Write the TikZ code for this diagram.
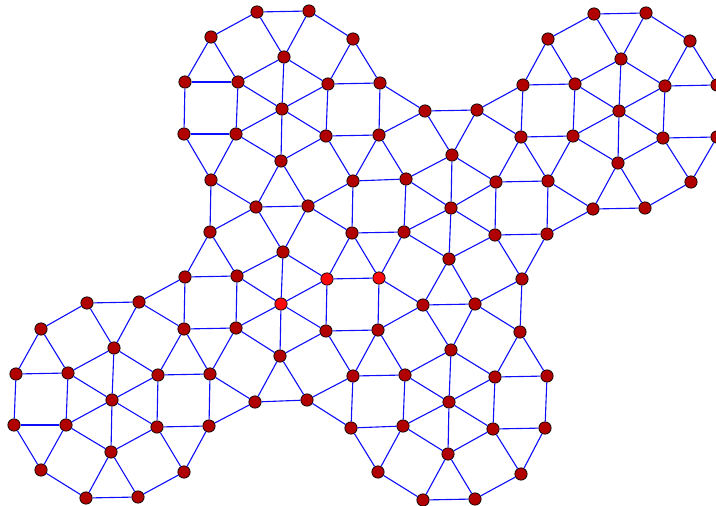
\documentclass[tikz,border=0pt]{standalone}
\definecolor{vertred}{RGB}{176,0,0}
\definecolor{hotred}{RGB}{250,10,10}
\definecolor{linkblue}{RGB}{15,15,250}

\begin{document}
\begin{tikzpicture}[x=0.03cm, y=-0.03cm,
  vtx/.style={circle, draw=black, fill=vertred, line width=0.6pt,
              minimum size=0.37cm, inner sep=0pt},
  hot/.style={vtx, fill=hotred},
  link/.style={linkblue, line width=0.95pt}]
  \useasboundingbox (0,0) rectangle (716,506);
  \foreach \n/\x/\y in {1/257/12, 2/309/11, 3/211/37, 4/353/39, 5/284/57,
      6/185/82, 7/238/82, 8/328/84, 9/380/83, 10/282/109, 11/184/134,
      12/236/134, 13/326/136, 14/379/135, 15/281/161, 16/211/180,
      17/353/181, 18/406/179, 19/425/111, 20/477/110, 21/452/155,
      22/594/14, 23/646/13, 24/548/39, 25/690/41, 26/621/59, 27/523/85,
      28/575/84, 29/665/86, 30/717/85, 31/619/111, 32/521/137, 33/573/136,
      34/663/138, 35/717/137, 36/618/163, 37/496/182, 38/548/181,
      39/691/182, 40/593/209, 41/645/208, 42/256/207, 43/308/206,
      44/451/208, 45/210/232, 46/352/233, 47/404/232, 48/495/235,
      49/547/234, 50/283/252, 51/449/259, 52/185/277, 53/237/276,
      56/522/279, 57/87/303, 58/139/302, 60/423/305, 61/475/304,
      62/41/329, 63/184/329, 64/236/328, 65/326/331, 66/378/330,
      67/520/332, 68/114/348, 69/16/374, 70/68/373, 71/158/375,
      72/210/374, 73/112/400, 74/14/425, 75/66/425, 76/157/427,
      77/209/426, 78/111/452, 79/41/470, 80/184/472, 81/86/498,
      82/138/497, 83/280/356, 84/255/402, 85/307/400, 86/451/350,
      87/353/376, 88/405/375, 89/495/377, 90/547/376, 91/449/402,
      92/351/428, 93/403/426, 94/493/429, 95/545/428, 96/448/454,
      97/378/472, 98/521/474, 99/423/500, 100/475/499}
    \node[vtx] (v\n) at (\x,\y) {};
  \foreach \n/\x/\y in {54/327/279, 55/379/278, 59/281/304}
    \node[hot] (v\n) at (\x,\y) {};
  \foreach \a/\b in {1/2, 1/3, 1/5, 2/4, 2/5, 3/6, 3/7, 4/8, 4/9, 5/7, 5/8,
      5/10, 6/7, 6/11, 7/10, 7/12, 8/9, 8/10, 8/13, 9/14, 9/19, 10/12,
      10/13, 10/15, 11/12, 11/16, 12/15, 12/16, 13/14, 13/15, 13/17,
      14/17, 14/18, 14/19, 15/42, 15/43, 16/42, 16/45, 17/18, 17/43,
      17/46, 18/21, 18/44, 18/47, 19/20, 19/21, 20/21, 20/27, 20/32,
      21/37, 21/44, 22/23, 22/24, 22/26, 23/25, 23/26, 24/27, 24/28,
      25/29, 25/30, 26/28, 26/29, 26/31, 27/28, 27/32, 28/31, 28/33,
      29/30, 29/31, 29/34, 30/35, 31/33, 31/34, 31/36, 32/33, 32/37,
      32/38, 33/36, 33/38, 34/35, 34/36, 34/39, 35/39, 36/40, 36/41,
      37/38, 37/44, 37/48, 38/40, 38/49, 39/41, 40/41, 40/49, 42/43,
      42/45, 42/50, 43/46, 43/50, 44/47, 44/48, 44/51, 45/52, 45/53,
      46/47, 46/54, 46/55, 47/51, 47/55, 48/49, 48/51, 48/56, 49/56,
      50/53, 50/54, 50/59, 51/60, 51/61, 52/53, 52/58, 52/63, 53/59,
      53/64, 54/55, 54/59, 54/65, 55/60, 55/66, 56/61, 56/67, 57/58,
      57/62, 57/68, 58/63, 58/68, 59/64, 59/65, 59/83, 60/61, 60/66,
      60/86, 61/67, 61/86, 62/69, 62/70, 63/64, 63/71, 63/72, 64/72,
      64/83, 65/66, 65/83, 65/87, 66/87, 66/88, 67/89, 67/90, 68/70,
      68/71, 68/73, 69/70, 69/74, 70/73, 70/75, 71/72, 71/73, 71/76,
      72/77, 72/84, 73/75, 73/76, 73/78, 74/75, 74/79, 75/78, 75/79,
      76/77, 76/78, 76/80, 77/80, 77/84, 78/81, 78/82, 79/81, 80/82,
      81/82, 83/84, 83/85, 84/85, 85/87, 85/92, 86/88, 86/89, 86/91,
      87/88, 87/92, 88/91, 88/93, 89/90, 89/91, 89/94, 90/95, 91/93,
      91/94, 91/96, 92/93, 92/97, 93/96, 93/97, 94/95, 94/96, 94/98,
      95/98, 96/99, 96/100, 97/99, 98/100, 99/100}
    \draw[link] (v\a) -- (v\b);
\end{tikzpicture}
\end{document}
